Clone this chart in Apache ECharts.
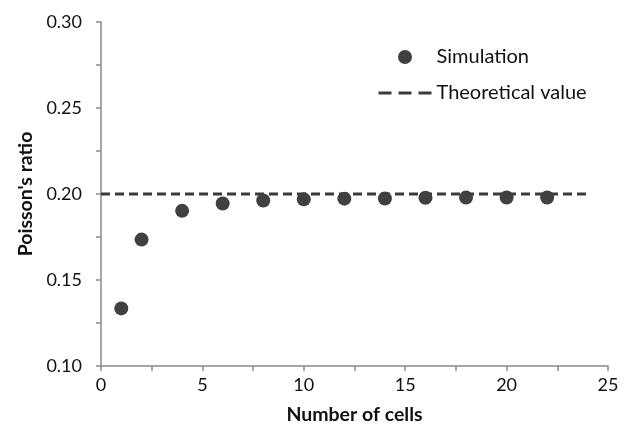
<!DOCTYPE html>
<html>
<head>
<meta charset="utf-8">
<script src="https://cdn.jsdelivr.net/npm/echarts@6/dist/echarts.min.js"></script>
<style>
  html, body { margin: 0; padding: 0; background: #fff; }
  #chart { width: 630px; height: 430px; }
</style>
</head>
<body>
<div id="chart"></div>
<script>
// number of cells vs simulated Poisson's ratio
var cells = [1, 2, 4, 6, 8, 10, 12, 14, 16, 18, 20, 22];
var ratio = [0.1335, 0.1735, 0.1902, 0.1945, 0.1962, 0.1969, 0.1973, 0.1974, 0.1978, 0.1979, 0.1980, 0.1980];
// theoretical value line
var theoryX = [0, 24];
var theoryY = [0.2, 0.2];

var simData = cells.map(function(c, i) { return [c, ratio[i]]; });
var theoryData = theoryX.map(function(x, i) { return [x, theoryY[i]]; });

var font = 'Lato, "Open Sans", sans-serif';
var axisColor = '#8a8a8a';

var chart = echarts.init(document.getElementById('chart'));
chart.setOption({
  animation: false,
  grid: { left: 101, top: 22, right: 22, bottom: 64, containLabel: false },
  legend: {
    orient: 'vertical',
    left: 377,
    top: 47,
    padding: 0,
    itemWidth: 53,
    itemHeight: 14,
    itemGap: 16,
    textStyle: { fontFamily: font, fontSize: 20, color: '#111' },
    data: [
      { name: 'Simulation', icon: 'circle' },
      {
        name: 'Theoretical value',
        itemStyle: { color: 'transparent', borderWidth: 0 },
        lineStyle: { type: [13, 7], width: 3, color: '#3a3a3a' }
      }
    ]
  },
  xAxis: {
    type: 'value',
    min: 0, max: 25, interval: 2.5,
    name: 'Number of cells',
    nameLocation: 'middle',
    nameGap: 39,
    nameTextStyle: { fontFamily: font, fontSize: 19.5, fontWeight: 'bold', color: '#111' },
    axisLine: { lineStyle: { color: axisColor, width: 1.5 } },
    axisTick: { inside: false, length: 5, lineStyle: { color: axisColor, width: 1.5 } },
    axisLabel: {
      fontFamily: font, fontSize: 18, color: '#111', margin: 10,
      formatter: function(v) { return v % 5 === 0 ? String(v) : ''; }
    },
    splitLine: { show: false }
  },
  yAxis: {
    type: 'value',
    min: 0.1, max: 0.3, interval: 0.025,
    name: "Poisson's ratio",
    nameLocation: 'middle',
    nameGap: 65,
    nameTextStyle: { fontFamily: font, fontSize: 19.5, fontWeight: 'bold', color: '#111' },
    axisLine: { show: true, lineStyle: { color: axisColor, width: 1.5 } },
    axisTick: { show: true, length: 5, lineStyle: { color: axisColor, width: 1.5 } },
    axisLabel: {
      fontFamily: font, fontSize: 18, color: '#111', margin: 19,
      formatter: function(v) {
        var k = Math.round(v * 1000);
        return k % 50 === 0 ? v.toFixed(2) : '';
      }
    },
    splitLine: { show: false }
  },
  series: [
    {
      name: 'Theoretical value',
      type: 'line',
      data: theoryData,
      symbol: 'none',
      lineStyle: { color: '#3a3a3a', width: 3, type: [9, 5] },
      itemStyle: { color: '#3a3a3a' },
      z: 2
    },
    {
      name: 'Simulation',
      type: 'scatter',
      data: simData,
      symbol: 'circle',
      symbolSize: 14,
      itemStyle: { color: '#404040', opacity: 1 },
      z: 3
    }
  ]
});
</script>
</body>
</html>
